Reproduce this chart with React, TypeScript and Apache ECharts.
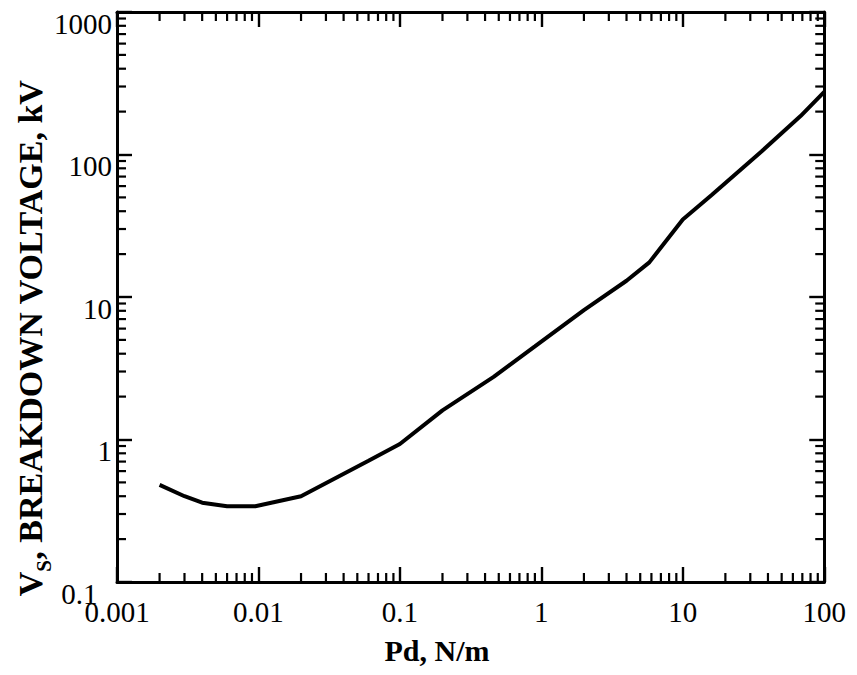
import React, { useEffect, useRef } from "react";
import * as echarts from "echarts";

// Curve data (Pd in N/m, Vs in kV)
const pd = [0.002, 0.003, 0.004, 0.006, 0.0095, 0.02, 0.06, 0.1, 0.2, 0.46, 0.9, 2, 4, 5.8, 10, 16, 36, 68, 100];
const vs = [0.48, 0.4, 0.36, 0.34, 0.34, 0.4, 0.71, 0.93, 1.6, 2.75, 4.5, 8.1, 13, 17.5, 35, 52, 105, 186, 275];

const xDecades = [0.001, 0.01, 0.1, 1, 10];
const yDecades = [0.1, 1, 10, 100];
const minorMultipliers = [2, 3, 4, 5, 6, 7, 8, 9];

const xLabels = ["0.001", "0.01", "0.1", "1", "10", "100"];
const yLabels = ["0.1", "1", "10", "100", "1000"];

const FONT = '"Liberation Serif", "DejaVu Serif", serif';

export default function App() {
  const ref = useRef<HTMLDivElement>(null);
  useEffect(() => {
    if (!ref.current) return;
    const chart = echarts.init(ref.current, null, { renderer: "svg" });
    const xMinor: number[][] = [];
    xDecades.forEach((d) => minorMultipliers.forEach((m) => xMinor.push([+(d * m).toPrecision(3), 1])));
    const yMinor: number[][] = [];
    yDecades.forEach((d) => minorMultipliers.forEach((m) => yMinor.push([1, +(d * m).toPrecision(3)])));

    const axisLine = { show: true, lineStyle: { color: "#000", width: 3 } };
    const majorTick = { show: true, inside: true, length: 15, lineStyle: { color: "#000", width: 2.4 } };
    const MINOR = 9;

    const pick = (list: string[], v: number) => {
      const s = String(v);
      return list.includes(s) ? s : "";
    };

    chart.setOption({
      animation: false,
      backgroundColor: "#fff",
      grid: { left: 109, right: 18, top: 4, bottom: 85 },
      xAxis: [
        {
          type: "log",
          logBase: 10,
          min: 0.001,
          max: 100,
          position: "bottom",
          axisLine,
          axisTick: majorTick,
          splitLine: { show: false },
          axisLabel: {
            color: "#000",
            fontFamily: FONT,
            fontSize: 29,
            margin: 15,
            formatter: (v: number) => pick(xLabels, v),
          },
        },
        {
          type: "log",
          logBase: 10,
          min: 0.001,
          max: 100,
          position: "top",
          axisLine,
          axisTick: majorTick,
          splitLine: { show: false },
          axisLabel: { show: false },
        },
      ],
      yAxis: [
        {
          type: "log",
          logBase: 10,
          min: 0.1,
          max: 1000,
          position: "left",
          axisLine,
          axisTick: majorTick,
          splitLine: { show: false },
          axisLabel: {
            color: "#000",
            fontFamily: FONT,
            fontSize: 29,
            margin: 5,
            verticalAlign: "top",
            padding: [-3, 0, 0, 0],
            formatter: (v: number) => {
              const s = pick(yLabels, v);
              return s === "0.1" ? s + "  " : s;
            },
          },
        },
        {
          type: "log",
          logBase: 10,
          min: 0.1,
          max: 1000,
          position: "right",
          axisLine,
          axisTick: majorTick,
          splitLine: { show: false },
          axisLabel: { show: false },
        },
      ],
      series: [
        {
          type: "line",
          data: pd.map((x, i) => [x, vs[i]]),
          showSymbol: false,
          smooth: false,
          lineStyle: { color: "#000", width: 4 },
          xAxisIndex: 0,
          yAxisIndex: 0,
        },
        {
          type: "custom",
          xAxisIndex: 0,
          yAxisIndex: 0,
          clip: false,
          silent: true,
          data: xMinor,
          renderItem: (params: any, api: any) => {
            const v = api.value(0);
            const b = api.coord([v, 0.1]);
            const t = api.coord([v, 1000]);
            const style = { stroke: "#000", lineWidth: 2.2 };
            return {
              type: "group",
              children: [
                { type: "line", shape: { x1: b[0], y1: b[1], x2: b[0], y2: b[1] - MINOR }, style },
                { type: "line", shape: { x1: t[0], y1: t[1], x2: t[0], y2: t[1] + MINOR }, style },
              ],
            };
          },
        },
        {
          type: "custom",
          xAxisIndex: 0,
          yAxisIndex: 0,
          clip: false,
          silent: true,
          data: yMinor,
          renderItem: (params: any, api: any) => {
            const v = api.value(1);
            const l = api.coord([0.001, v]);
            const r = api.coord([100, v]);
            const style = { stroke: "#000", lineWidth: 2.2 };
            return {
              type: "group",
              children: [
                { type: "line", shape: { x1: l[0], y1: l[1], x2: l[0] + MINOR, y2: l[1] }, style },
                { type: "line", shape: { x1: r[0], y1: r[1], x2: r[0] - MINOR, y2: r[1] }, style },
              ],
            };
          },
        },
      ],
      graphic: [
        {
          type: "text",
          x: 429,
          y: 642,
          style: {
            text: "Pd, N/m",
            font: `bold 30px ${FONT}`,
            fill: "#000",
            align: "center",
            verticalAlign: "middle",
          },
        },
        {
          type: "text",
          x: 20,
          y: 330,
          rotation: Math.PI / 2,
          style: {
            text: "{a|V}{s|S}{a|, BREAKDOWN VOLTAGE, kV}",
            align: "center",
            verticalAlign: "middle",
            fill: "#000",
            rich: {
              a: { font: `bold 34px ${FONT}`, fill: "#000", verticalAlign: "bottom", lineHeight: 38 },
              s: { font: `bold 21px ${FONT}`, fill: "#000", verticalAlign: "bottom", lineHeight: 38, padding: [0, 0, -7, 0] },
            },
          },
        },
      ],
    });
    return () => chart.dispose();
  }, []);
  return <div ref={ref} style={{ width: 841, height: 659 }} />;
}
